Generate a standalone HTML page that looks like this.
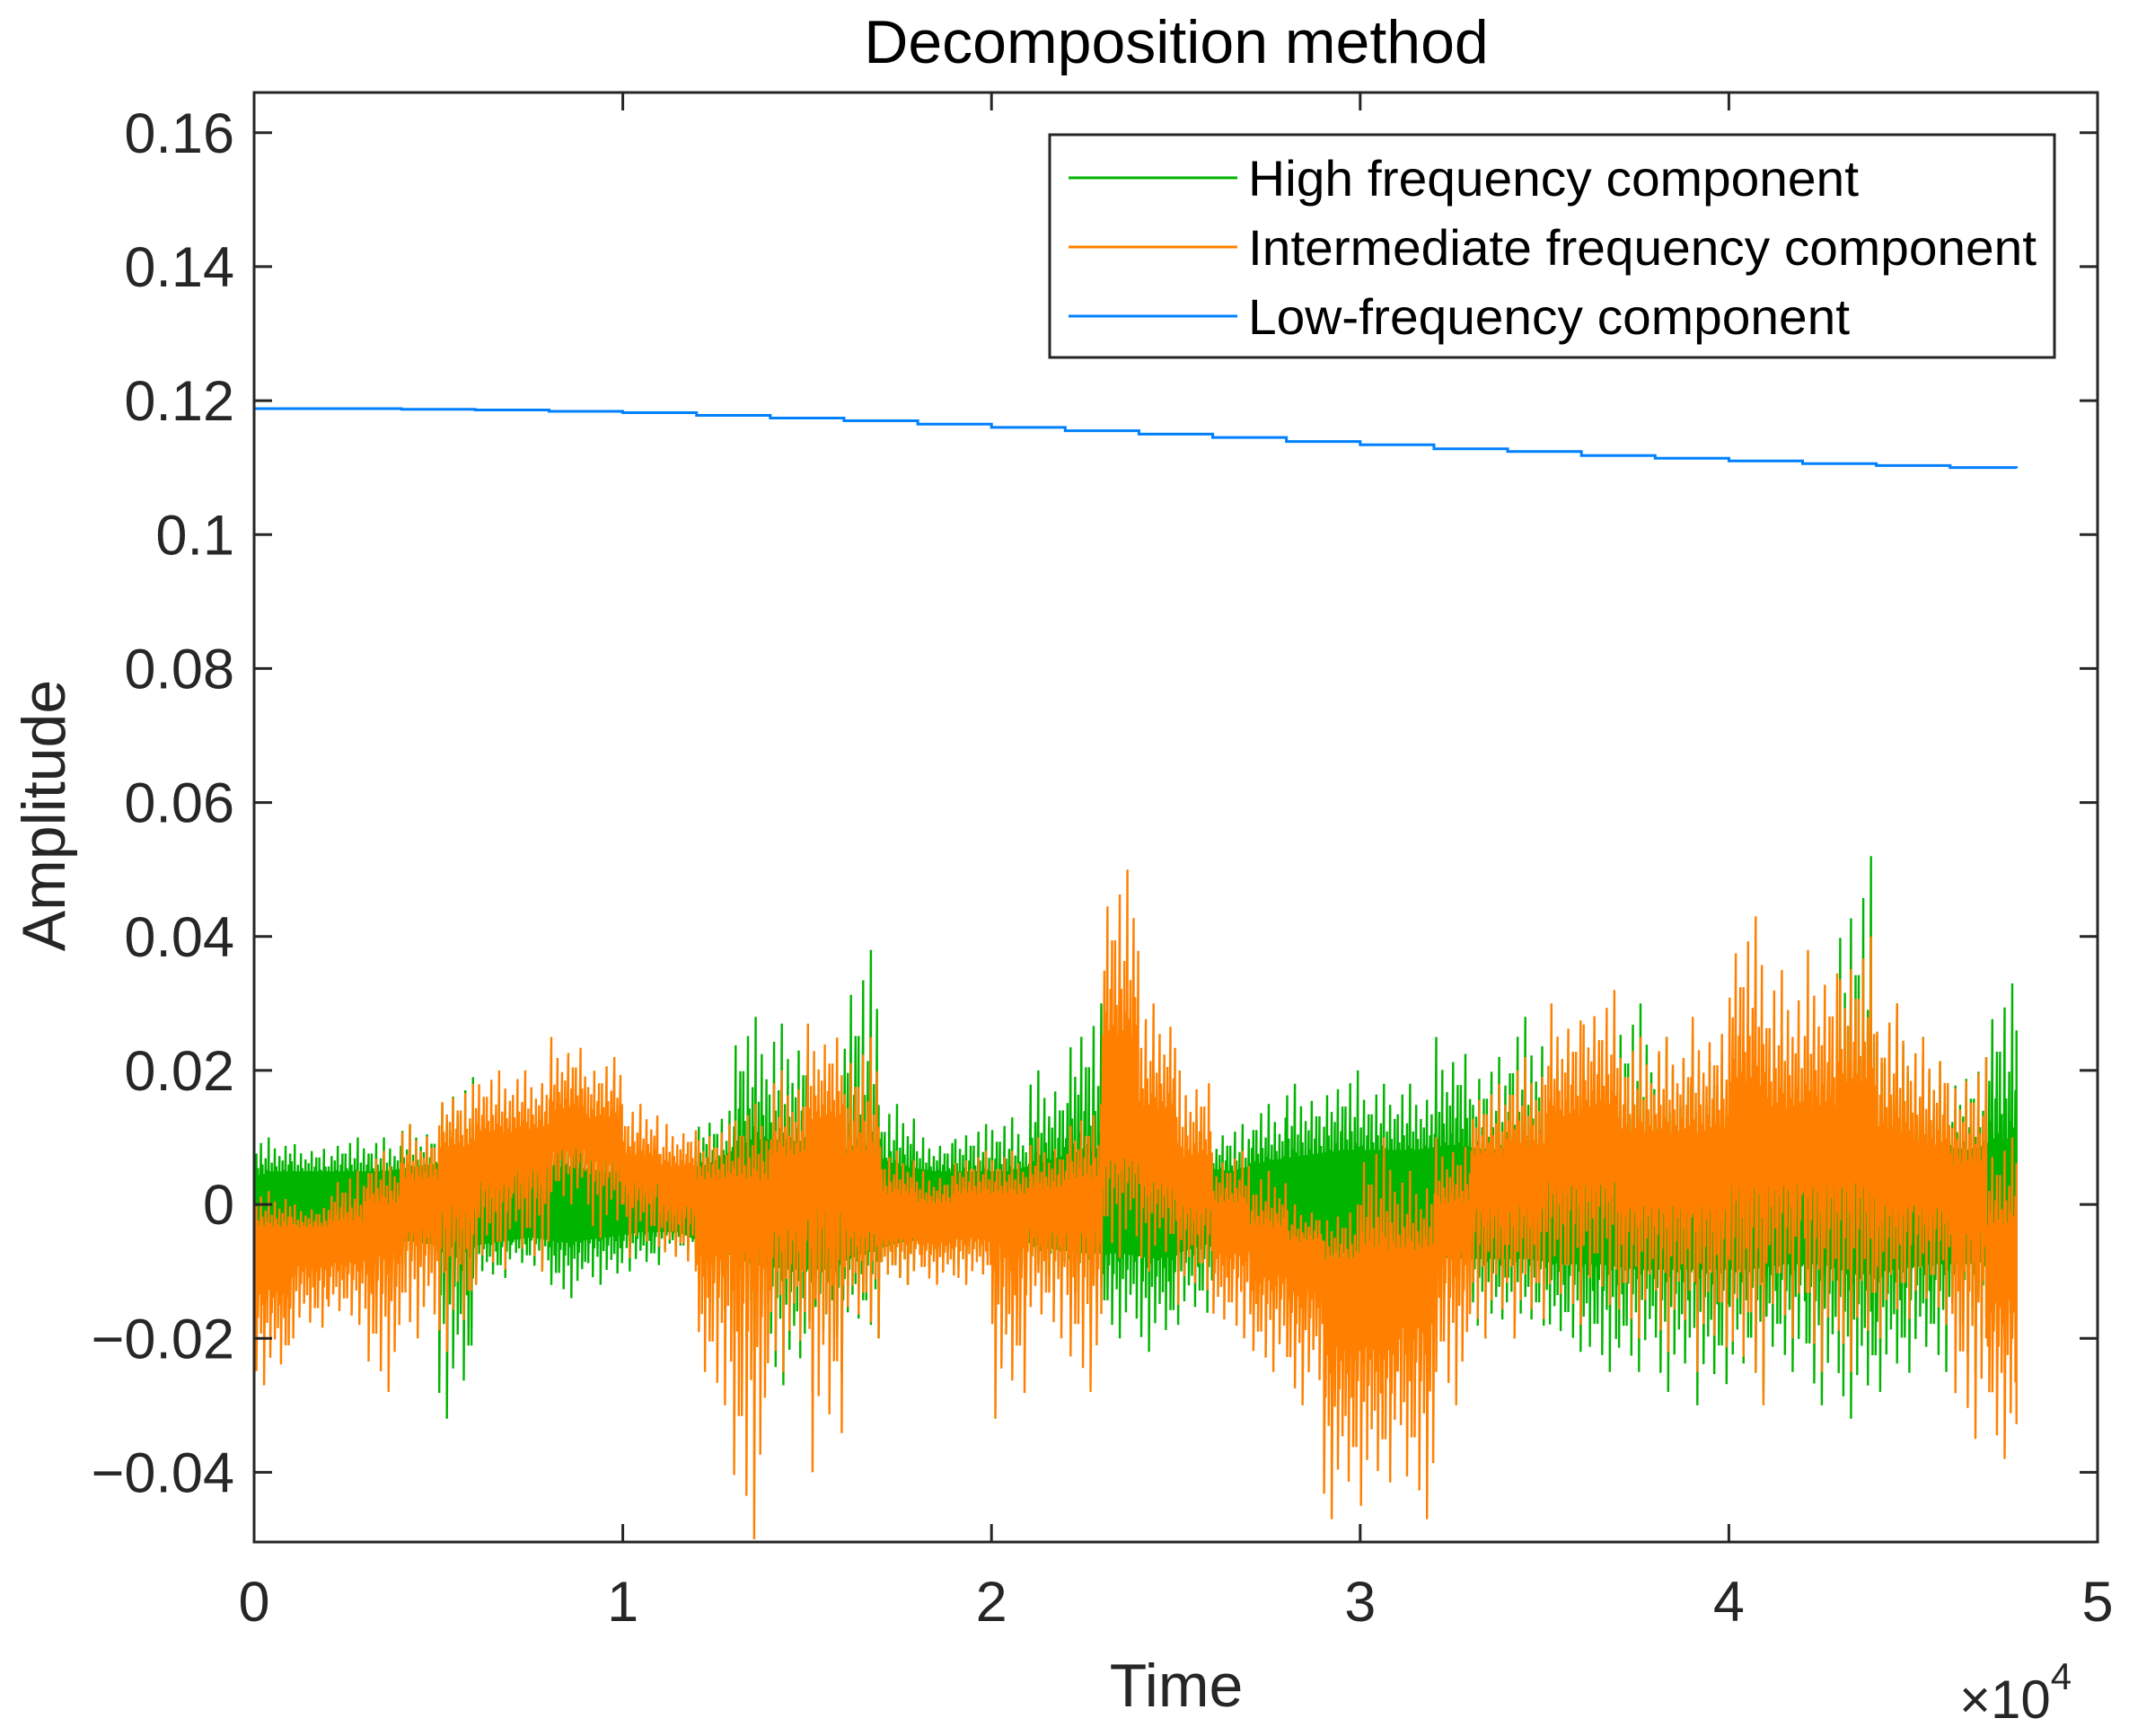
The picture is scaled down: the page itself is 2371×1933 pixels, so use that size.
<!DOCTYPE html>
<html><head><meta charset="utf-8"><style>
html,body{margin:0;padding:0;background:#fff;}
svg{display:block;font-family:"Liberation Sans",Arial,sans-serif;}
</style></head><body>
<svg id="chart" width="2371" height="1933" viewBox="0 0 2371 1933">
<rect width="2371" height="1933" fill="#fff"/>
<g id="plot"></g>
<g id="axes"></g>
</svg>
<script>
// ---- data (values in units of 1e-3 amplitude, bins of 1000 time samples) ----
const binStarts = [0,1,2,3,4,5,6,7,8,9,10,11,12,13,14,15,16,17,18,19,20,21,22,23,24,25,26,27,28,29,30,31,32,33,34,35,36,37,38,39,40,41,42,43,44,45,46,47];
const greenMax = [10,9,10,10,12,19,13,11,12,10,8,7,14,28,27,22,38,15,10,12,13,20,30,18,20,15,12,15,18,20,18,18,25,22,28,25,25,30,25,25,30,25,22,52,30,25,22,33];
const greenMin = [-12,-10,-12,-10,-12,-32,-12,-10,-14,-12,-10,-8,-16,-22,-27,-28,-20,-12,-10,-10,-10,-14,-18,-20,-22,-18,-10,-12,-15,-15,-15,-16,-18,-20,-20,-22,-25,-25,-28,-30,-28,-25,-30,-32,-28,-25,-25,-20];
const greenHi = [6,6,6,6,7,8,7,6,7,6,5,5,8,12,12,10,10,7,6,6,6,8,10,9,9,7,6,8,9,10,10,10,11,10,11,11,11,12,11,11,12,11,10,13,12,11,10,12];
const greenLo = [-6,-6,-6,-6,-7,-8,-7,-6,-7,-6,-5,-5,-8,-11,-12,-12,-9,-7,-6,-6,-6,-8,-9,-9,-10,-8,-6,-7,-8,-9,-9,-9,-10,-10,-10,-11,-11,-12,-12,-12,-12,-11,-11,-13,-12,-11,-11,-10];
const orangeMax = [2,0,5,8,12,18,20,20,25,22,15,12,12,15,20,27,25,8,5,8,8,10,15,50,30,20,8,5,0,0,10,5,10,18,22,30,32,25,25,28,43,35,38,40,30,25,22,10];
const orangeMin = [-27,-20,-18,-28,-20,-22,-12,-10,0,-5,-8,-10,-30,-50,-25,-40,-20,-12,-12,-12,-32,-20,-28,-8,-10,-15,-20,-25,-30,-47,-45,-47,-30,-20,-20,-18,-15,-20,-22,-25,-30,-20,-25,-25,-20,-18,-35,-38];
const orangeHi = [-5,-5,-4,0,5,12,15,16,20,18,10,8,5,5,10,18,10,2,0,2,2,3,5,35,20,10,0,-5,-8,-12,-10,-10,0,10,12,18,20,15,15,15,25,20,20,25,15,12,8,-5];
const orangeLo = [-18,-13,-12,-10,-5,0,5,8,12,10,5,0,-10,-8,-5,0,-5,-7,-8,-7,-8,-5,-5,10,5,0,-10,-15,-18,-30,-30,-25,-10,0,0,5,5,0,0,0,5,5,5,5,0,0,-5,-20];
const blueTimes = [0,2000,4000,6000,8000,10000,12000,14000,16000,18000,20000,22000,24000,26000,28000,30000,32000,34000,36000,38000,40000,42000,44000,46000,47800];
const blueVals = [0.1188,0.1188,0.1187,0.1186,0.1184,0.1182,0.1178,0.1174,0.1170,0.1165,0.1160,0.1155,0.1150,0.1145,0.1139,0.1134,0.1128,0.1124,0.1118,0.1114,0.1110,0.1106,0.1103,0.1100,0.1099];
const xTickVals = [0,1,2,3,4,5];
const yTickVals = [-0.04,-0.02,0,0.02,0.04,0.06,0.08,0.1,0.12,0.14,0.16];
const yTickLabels = ["\u22120.04","\u22120.02","0","0.02","0.04","0.06","0.08","0.1","0.12","0.14","0.16"];

const L=283,R=2336,T=103,B=1717;
const XMAX=50000, YMIN=-0.0504, YMAX=0.166;
const sx = t => L + (t/XMAX)*(R-L);
const sy = v => B - (v-YMIN)/(YMAX-YMIN)*(B-T);
const NS="http://www.w3.org/2000/svg";
const plot=document.getElementById('plot'), axes=document.getElementById('axes');
function mk(tag,attrs,parent){const e=document.createElementNS(NS,tag);for(const k in attrs)e.setAttribute(k,attrs[k]);parent.appendChild(e);return e;}

// deterministic texture fractions (visual jitter only, not data)
const tex=[0.2,0.7,0.35,0.1,0.9,0.45,0.15,0.6,0.3,1.0,0.25,0.5,0.05,0.8,0.4,0.2,0.65,0.1,0.55,0.3,0.85,0.15,0.45,0.7];
function drawSeries(maxA,minA,hiA,loA,color,name,fillCore){
  const g=mk('g',{},plot);
  
  
  const end=47800;
  if(fillCore){
    const cx=i=>Math.min(binStarts[i]*1000+500,end);
    let top='',bot='';
    binStarts.forEach((b,i)=>{top+=(i?'L':'M')+sx(cx(i)).toFixed(1)+','+sy(hiA[i]*0.8/1000).toFixed(1);});
    for(let i=binStarts.length-1;i>=0;i--){bot+='L'+sx(cx(i)).toFixed(1)+','+sy(loA[i]*0.8/1000).toFixed(1);}
    mk('path',{d:top+bot+'Z',fill:color,stroke:color,'stroke-width':2},g);
  }
  let d='';
  const n=24;
  binStarts.forEach((b,i)=>{
    for(let k=0;k<n;k++){
      const t=Math.min(b*1000+(k+0.5)*1000/n,end);
      const f=tex[(k+i*7)%tex.length];
      const f2=tex[(k+i*5+3)%tex.length];
      const up=hiA[i]*0.7+(maxA[i]-hiA[i]*0.7)*Math.pow(f,1.5);
      const dn=loA[i]*0.7+(minA[i]-loA[i]*0.7)*Math.pow(f2,1.5);
      const x=sx(t).toFixed(1);
      d+=(d?'L':'M')+x+','+sy(up/1000).toFixed(1)+'L'+x+','+sy(dn/1000).toFixed(1);
    }
  });
  const p=mk('path',{d:d,fill:'none',stroke:color,'stroke-width':2.4,'stroke-linejoin':'miter'},g);
  
  
}
drawSeries(greenMax,greenMin,greenHi,greenLo,'#00b400','high-frequency',true);
drawSeries(orangeMax,orangeMin,orangeHi,orangeLo,'#ff8000','intermediate-frequency',false);
let bd='';
blueTimes.forEach((t,i)=>{
  if(i===0) bd='M'+sx(t)+','+sy(blueVals[i]);
  else bd+='L'+sx(t)+','+sy(blueVals[i-1])+'L'+sx(t)+','+sy(blueVals[i]);
});
const bl=mk('path',{d:bd,fill:'none',stroke:'#0080ff','stroke-width':3},plot);



const box=mk('rect',{x:L,y:T,width:R-L,height:B-T,fill:'none',stroke:'#262626','stroke-width':3},axes);


xTickVals.forEach(v=>{
  const x=sx(v*10000);
  mk('line',{x1:x,x2:x,y1:B,y2:B-20,stroke:'#262626','stroke-width':3},axes);
  mk('line',{x1:x,x2:x,y1:T,y2:T+20,stroke:'#262626','stroke-width':3},axes);
  const t=mk('text',{x:x,y:B+88,'font-size':63,'text-anchor':'middle',fill:'#262626'},axes);
  t.textContent=v;
  
  
});
yTickVals.forEach((v,i)=>{
  const y=sy(v);
  mk('line',{x1:L,x2:L+20,y1:y,y2:y,stroke:'#262626','stroke-width':3},axes);
  mk('line',{x1:R,x2:R-20,y1:y,y2:y,stroke:'#262626','stroke-width':3},axes);
  const t=mk('text',{x:L-22,y:y+22,'font-size':63,'text-anchor':'end',fill:'#262626'},axes);
  t.textContent=yTickLabels[i];
  
  
});
</script>
<svg style="position:absolute;left:0;top:0" width="2371" height="1933">
<text x="1310" y="70" font-size="68" text-anchor="middle" fill="#000">Decomposition method</text>
<text x="1310" y="1900" font-size="68" text-anchor="middle" fill="#262626">Time</text>
<text x="2182" y="1913" font-size="60" fill="#262626">×10<tspan dy="-32" font-size="42">4</tspan></text>
<text transform="translate(72,908) rotate(-90)" font-size="68" text-anchor="middle" fill="#262626">Amplitude</text>
<g>
<rect x="1169" y="150" width="1119" height="248" fill="#fff" stroke="#262626" stroke-width="3"/>
<line x1="1190" x2="1378" y1="198" y2="198" stroke="#00b400" stroke-width="3"/>
<text x="1390" y="218" font-size="56" fill="#000" textLength="680" lengthAdjust="spacingAndGlyphs">High frequency component</text>
<line x1="1190" x2="1378" y1="275" y2="275" stroke="#ff8000" stroke-width="3"/>
<text x="1390" y="295" font-size="56" fill="#000" textLength="878" lengthAdjust="spacingAndGlyphs">Intermediate frequency component</text>
<line x1="1190" x2="1378" y1="352" y2="352" stroke="#0080ff" stroke-width="3"/>
<text x="1390" y="372" font-size="56" fill="#000" textLength="670" lengthAdjust="spacingAndGlyphs">Low-frequency component</text>
</g>
</svg>
</body></html>
